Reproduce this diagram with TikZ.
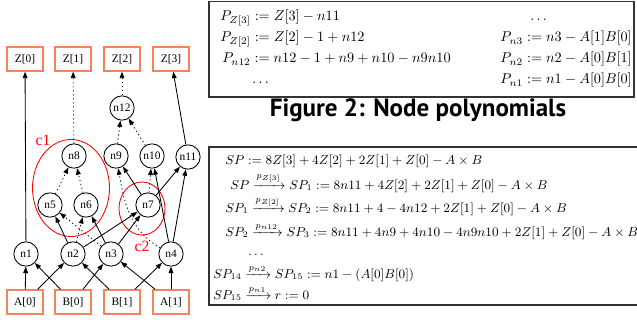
\documentclass[tikz,border=0pt]{standalone}
\usepackage{amsmath}
\usepackage{fontspec}
\usetikzlibrary{arrows.meta}
\newfontfamily\gvfont{Liberation Serif}
\newfontfamily\headfont{PT Sans}
\definecolor{boxorange}{RGB}{245,130,90}
\tikzset{
  gnode/.style={circle, draw, line width=0.6pt, minimum size=17pt, inner sep=0pt,
    font=\gvfont\fontsize{8}{9}\selectfont},
  iobox/.style={rectangle, draw=boxorange, line width=1pt, minimum width=25.2pt,
    minimum height=16.8pt, inner sep=0pt, font=\gvfont\fontsize{8}{9}\selectfont},
  arr/.style={-{Triangle[length=4.5pt,width=3.3pt]}, line width=0.6pt},
  dotarr/.style={arr, dash pattern=on 0.8pt off 2pt},
  cluster/.style={draw=red, line width=0.6pt},
  clabel/.style={text=red, inner sep=0pt, font=\gvfont\fontsize{11}{12}\selectfont},
  frame/.style={draw=black!80, line width=1pt},
  eq/.style={inner sep=0pt, font=\fontsize{10}{12}\selectfont},
  steq/.style={inner sep=0pt, anchor=base west, font=\fontsize{9.2}{11}\selectfont},
}
\begin{document}
\begin{tikzpicture}[x=0.7pt,y=-0.7pt]
\useasboundingbox (0,0) rectangle (637,320);
\clip (0,0) rectangle (637,320);

% ---- circuit graph ----
% outputs
\node[iobox] (z0) at (25,59) {Z[0]};
\node[iobox] (z1) at (73,59) {Z[1]};
\node[iobox] (z2) at (122,59) {Z[2]};
\node[iobox] (z3) at (171,59) {Z[3]};
% gates
\node[gnode] (n12) at (122,108) {n12};
\node[gnode] (n8) at (74,156) {n8};
\node[gnode] (n9) at (116,156) {n9};
\node[gnode] (n10) at (152,156) {n10};
\node[gnode] (n11) at (188,157) {n11};
\node[gnode] (n5) at (50,205) {n5};
\node[gnode] (n6) at (86,205) {n6};
\node[gnode] (n7) at (148,205) {n7};
\node[gnode] (n1) at (26,254) {n1};
\node[gnode] (n2) at (73,254) {n2};
\node[gnode] (n3) at (111,254) {n3};
\node[gnode] (n4) at (171,254) {n4};
% inputs
\node[iobox] (a0) at (25,302) {A[0]};
\node[iobox] (b0) at (73,302) {B[0]};
\node[iobox] (b1) at (122,302) {B[1]};
\node[iobox] (a1) at (171,302) {A[1]};

% clusters
\draw[cluster] (71,188) ellipse [x radius=38.5, y radius=48.5];
\node[clabel] (c1) at (43,140) {c1};
\draw[cluster] (142,208.5) ellipse [x radius=23, y radius=26.5];
\node[clabel] (c2) at (142,246) {c2};

% wires
\draw[arr] (n1) -- (z0);
\draw[dotarr] (n8) -- (z1);
\draw[dotarr] (n12) -- (z2);
\draw[arr] (n11) -- (z3);
\draw[dotarr] (n9) -- (n12);
\draw[dotarr] (n10) -- (n12);
\draw[dotarr] (n5) -- (n8);
\draw[dotarr] (n6) -- (n8);
\draw[arr] (n2) -- (n5);
\draw[dotarr] (n3) -- (n5);
\draw[dotarr] (n2) -- (n6);
\draw[arr] (n3) -- (n6);
\draw[arr] (n2) -- (n7);
\draw[arr] (n3) -- (n7);
\draw[arr] (n7) -- (n9);
\draw[dotarr] (n7) -- (n10);
\draw[arr] (n7) -- (n11);
\draw[dotarr] (n4) to[out=150,in=-80] (n9);
\draw[arr] (n4) -- (n10);
\draw[arr] (n4) -- (n11);
\draw[arr] (a0) -- (n1);
\draw[arr] (b0) -- (n1);
\draw[arr] (a0) -- (n2);
\draw[arr] (b1) -- (n2);
\draw[arr] (b0) -- (n3);
\draw[arr] (a1) -- (n3);
\draw[arr] (b1) -- (n4);
\draw[arr] (a1) -- (n4);

% ---- node polynomials ----
\draw[frame] (209,1.5) rectangle (634,97);
\node[eq, anchor=base west] (pz3) at (220,21) {$P_{Z[3]} := Z[3] - n11$};
\node[eq, anchor=base west] (pz2) at (220,42) {$P_{Z[2]} := Z[2] - 1 + n12$};
\node[eq, anchor=base west] (pn12) at (222,63) {$P_{n12} := n12 - 1 + n9 + n10 - n9n10$};
\node[eq, anchor=base west] (pl) at (252,84) {$\ldots$};
\node[eq, anchor=base west] (pr) at (530,21) {$\ldots$};
\node[eq, anchor=base east] (pn3) at (632,42) {$P_{n3} := n3 - A[1]B[0]$};
\node[eq, anchor=base east] (pn2) at (632,63) {$P_{n2} := n2 - A[0]B[1]$};
\node[eq, anchor=base east] (pn1) at (632,84) {$P_{n1} := n1 - A[0]B[0]$};

\node[anchor=base, inner sep=0pt, font=\headfont\bfseries\fontsize{17.5}{20}\selectfont]
  (title) at (418,117) {Figure 2: Node polynomials};

% ---- rewriting steps ----
\draw[frame] (209,147) rectangle (660,305);
\node[steq] (s0) at (225,165) {$SP := 8Z[3] + 4Z[2] + 2Z[1] + Z[0] - A \times B$};
\node[steq] (s1) at (230,189) {$SP \xrightarrow{p_{Z[3]}} SP_1 := 8n11 + 4Z[2] + 2Z[1] + Z[0] - A \times B$};
\node[steq] (s2) at (225,212.5) {$SP_1 \xrightarrow{p_{Z[2]}} SP_2 := 8n11 + 4 - 4n12 + 2Z[1] + Z[0] - A \times B$};
\node[steq] (s3) at (225,236) {$SP_2 \xrightarrow{p_{n12}} SP_3 := 8n11 + 4n9 + 4n10 - 4n9n10 + 2Z[1] + Z[0] - A \times B$};
\node[steq] (s4) at (248,255) {$\ldots$};
\node[steq] (s5) at (213,278) {$SP_{14} \xrightarrow{p_{n2}} SP_{15} := n1 - (A[0]B[0])$};
\node[steq] (s6) at (213,299) {$SP_{15} \xrightarrow{p_{n1}} r := 0$};
\end{tikzpicture}
\end{document}
